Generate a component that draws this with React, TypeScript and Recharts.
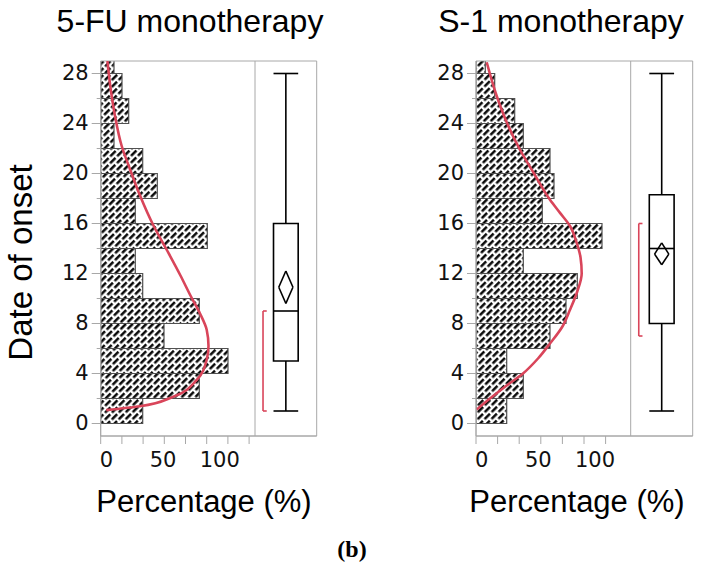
import React from 'react';
import { ComposedChart, XAxis, YAxis, Line, ReferenceArea, ReferenceLine } from 'recharts';

// ---- data ----
const binLows = [0, 2, 4, 6, 8, 10, 12, 14, 16, 18, 20, 22, 24, 26, 28];
const binWidth = 2;
const fuPercent = [42, 98.6, 127.3, 63.3, 98.6, 42, 34.6, 106.6, 34.6, 56.6, 42, 13.3, 28, 21.3, 13.3];
const s1Percent = [30.7, 47.3, 30.7, 74, 90, 101.3, 47.3, 126, 66.3, 78, 74, 47.3, 38.7, 18.7, 9.3];

const fuCurveX = [5.5, 39.3, 72.6, 96, 106, 107.8, 106, 99.3, 90, 80, 66, 53, 39.5, 29.5, 21, 14.3, 10, 6.7];
const fuCurveY = [1.07, 1.38, 2.14, 3.48, 5.1, 6.2, 7.5, 8.8, 10.2, 11.8, 13.9, 15.8, 18.2, 20.3, 22.2, 24.6, 26.75, 29];
const s1CurveX = [0.7, 14, 30, 47, 62, 74, 86, 94, 101, 105.7, 104.5, 100.7, 94, 84, 74, 57.3, 44, 30.7, 20.7, 10.7];
const s1CurveY = [1.12, 2.0, 3.0, 4.0, 5.2, 6.4, 7.7, 9.1, 10.5, 12, 13.3, 14.45, 15.8, 16.85, 17.9, 20.1, 21.9, 24.1, 26.2, 28.9];

// min, q1, median, q3, max
const fuBoxStats = [1, 5, 9, 16, 28];
const s1BoxStats = [1, 8, 14, 18.3, 28];
// lower CI, mean, upper CI
const fuMeanDiamond = [9.6, 10.9, 12.2];
const s1MeanDiamond = [12.7, 13.55, 14.45];
// shortest half
const fuShortestHalf = [1, 9];
const s1ShortestHalf = [7, 16];

const yTicks = [0, 2, 4, 6, 8, 10, 12, 14, 16, 18, 20, 22, 24, 26, 28];
const yLabelTicks = [0, 4, 8, 12, 16, 20, 24, 28];
const xLabelTicks = [0, 50, 100];
const fuXTickMarks = [0, 21.2, 42.4, 63.6, 84.8, 106, 127.2, 148.4];
const s1XTickMarks = [0, 21.6, 43.2, 64.8, 86.4, 108, 129.6];

const titles = ['5-FU monotherapy', 'S-1 monotherapy'];

const GRAY = '#a8a8a8';
const RED = '#d9455a';
const TICK_FONT = '"DejaVu Sans", Verdana, sans-serif';

const makeXTick = (marks: number[]) => (props: any) => {
  const { x, y, payload } = props;
  const v = payload.value;
  const isMark = marks.some((m) => Math.abs(m - v) < 1e-6);
  const isLabel = xLabelTicks.some((m) => Math.abs(m - v) < 1e-6);
  return (
    <g>
      {isMark && <line x1={x} x2={x} y1={y} y2={y + 8} stroke={GRAY} strokeWidth={1} />}
      {isLabel && (
        <text x={x - 1} y={y + 31} textAnchor="start" fontFamily={TICK_FONT} fontSize={21} fill="#111">
          {v}
        </text>
      )}
    </g>
  );
};

const YTick = (props: any) => {
  const { x, y, payload } = props;
  const v = payload.value;
  const major = yLabelTicks.includes(v);
  return (
    <g>
      <line x1={x - (major ? 9 : 4)} x2={x} y1={y} y2={y} stroke={GRAY} strokeWidth={1} />
      {major && (
        <text x={x - 12} y={y + 6} textAnchor="end" fontFamily={TICK_FONT} fontSize={21} fill="#111">
          {v}
        </text>
      )}
    </g>
  );
};

type PanelProps = {
  id: string;
  values: number[];
  curveX: number[];
  curveY: number[];
  box: number[];
  diamond: number[];
  half: number[];
  marks: number[];
  left: number;
  width: number;
  marginLeft: number;
  marginRight: number;
  histMax: number;
  divider: number;
};

function Panel(p: PanelProps) {
  const curve = p.curveX.map((x, i) => ({ x, y: p.curveY[i] }));
  const ticks = Array.from(new Set([...p.marks, ...xLabelTicks])).sort((a, b) => a - b);
  const [mn, q1, med, q3, mx] = p.box;
  const [lo, mean, hi] = p.diamond;
  // box-plot strip placement (in the strip right of the divider)
  const u = p.histMax - p.divider;
  const at = (f: number) => p.divider + f * u;
  const cx = at(0.5);
  const hw = 0.115 * u;
  const bx1 = at(0.3);
  const bx2 = at(0.7);
  const bk1 = at(0.13);
  const bk2 = at(0.19);
  const boxLine = { stroke: '#000', strokeWidth: 1.6, ifOverflow: 'visible' as const, xAxisId: 'hist' };
  const redLine = { stroke: RED, strokeWidth: 1.6, ifOverflow: 'visible' as const, xAxisId: 'hist' };
  return (
    <div style={{ position: 'absolute', left: p.left, top: 0, width: p.width, height: 480 }}>
      <ComposedChart
        width={p.width}
        height={480}
        margin={{ top: 61, left: p.marginLeft, right: p.marginRight, bottom: 4 }}
      >
        <defs>
          <pattern
            id={`hatch-${p.id}`}
            patternUnits="userSpaceOnUse"
            width={9.6}
            height={10}
            patternTransform="rotate(45)"
          >
            <rect x={0} y={0} width={9.6} height={10} fill="#fff" />
            <line x1={1.3} y1={0} x2={1.3} y2={7.6} stroke="#000" strokeWidth={2.4} />
            <line x1={6.1} y1={5} x2={6.1} y2={10} stroke="#000" strokeWidth={2.4} />
            <line x1={6.1} y1={0} x2={6.1} y2={2.6} stroke="#000" strokeWidth={2.4} />
          </pattern>
        </defs>
        <XAxis
          xAxisId="hist"
          type="number"
          dataKey="x"
          domain={[0, p.histMax]}
          ticks={ticks}
          interval={0}
          tickSize={0}
          tickMargin={0}
          tickLine={false}
          axisLine={{ stroke: GRAY }}
          height={40}
          allowDataOverflow
          tick={makeXTick(p.marks)}
        />
        <YAxis
          type="number"
          domain={[-1, 29]}
          ticks={yTicks}
          interval={0}
          tickSize={0}
          tickMargin={0}
          tickLine={false}
          axisLine={{ stroke: GRAY }}
          width={60}
          allowDataOverflow
          tick={YTick}
        />
        {binLows.map((b, i) => (
          <ReferenceArea
            key={`bar-${i}`}
            xAxisId="hist"
            x1={0}
            x2={p.values[i]}
            y1={b}
            y2={b + binWidth}
            fill={`url(#hatch-${p.id})`}
            fillOpacity={1}
            stroke="#505050"
            strokeWidth={1.2}
            ifOverflow="hidden"
          />
        ))}
        <ReferenceArea
          xAxisId="hist"
          x1={0}
          x2={p.histMax}
          y1={-1}
          y2={29}
          fill="none"
          fillOpacity={0}
          stroke={GRAY}
          strokeWidth={1}
          ifOverflow="visible"
        />
        <ReferenceLine xAxisId="hist" x={p.divider} stroke={GRAY} strokeWidth={1} />
        {/* box plot */}
        <ReferenceLine segment={[{ x: cx, y: mn }, { x: cx, y: q1 }]} {...boxLine} />
        <ReferenceLine segment={[{ x: cx, y: q3 }, { x: cx, y: mx }]} {...boxLine} />
        <ReferenceLine segment={[{ x: bx1, y: mn }, { x: bx2, y: mn }]} {...boxLine} />
        <ReferenceLine segment={[{ x: bx1, y: mx }, { x: bx2, y: mx }]} {...boxLine} />
        <ReferenceArea
          xAxisId="hist"
          x1={bx1}
          x2={bx2}
          y1={q1}
          y2={q3}
          fill="#fff"
          fillOpacity={1}
          stroke="#000"
          strokeWidth={1.6}
          ifOverflow="visible"
        />
        <ReferenceLine segment={[{ x: bx1, y: med }, { x: bx2, y: med }]} {...boxLine} />
        {/* mean diamond */}
        <ReferenceLine segment={[{ x: cx, y: hi }, { x: cx + hw, y: mean }]} {...boxLine} />
        <ReferenceLine segment={[{ x: cx + hw, y: mean }, { x: cx, y: lo }]} {...boxLine} />
        <ReferenceLine segment={[{ x: cx, y: lo }, { x: cx - hw, y: mean }]} {...boxLine} />
        <ReferenceLine segment={[{ x: cx - hw, y: mean }, { x: cx, y: hi }]} {...boxLine} />
        {/* shortest half bracket */}
        <ReferenceLine segment={[{ x: bk1, y: p.half[0] }, { x: bk1, y: p.half[1] }]} {...redLine} />
        <ReferenceLine segment={[{ x: bk1, y: p.half[0] }, { x: bk2, y: p.half[0] }]} {...redLine} />
        <ReferenceLine segment={[{ x: bk1, y: p.half[1] }, { x: bk2, y: p.half[1] }]} {...redLine} />
        <Line
          xAxisId="hist"
          data={curve}
          dataKey="y"
          type="monotoneY"
          stroke={RED}
          strokeWidth={2.6}
          dot={false}
          activeDot={false}
          isAnimationActive={false}
        />
      </ComposedChart>
    </div>
  );
}

export default function App() {
  const sans = '"Liberation Sans", Arial, sans-serif';
  return (
    <div style={{ position: 'absolute', left: 0, top: 0, width: 704, height: 576, background: '#fff' }}>
      <Panel
        id="fu"
        values={fuPercent}
        curveX={fuCurveX}
        curveY={fuCurveY}
        box={fuBoxStats}
        diamond={fuMeanDiamond}
        half={fuShortestHalf}
        marks={fuXTickMarks}
        left={0}
        width={330}
        marginLeft={40.7}
        marginRight={13.3}
        histMax={216}
        divider={154.3}
      />
      <Panel
        id="s1"
        values={s1Percent}
        curveX={s1CurveX}
        curveY={s1CurveY}
        box={s1BoxStats}
        diamond={s1MeanDiamond}
        half={s1ShortestHalf}
        marks={s1XTickMarks}
        left={352}
        width={352}
        marginLeft={64}
        marginRight={11.3}
        histMax={216.7}
        divider={154.7}
      />
      <svg
        width={704}
        height={576}
        style={{ position: 'absolute', left: 0, top: 0, pointerEvents: 'none' }}
      >
        <text x={190} y={32} textAnchor="middle" fontFamily={sans} fontSize={32} fill="#000">
          {titles[0]}
        </text>
        <text x={561} y={32} textAnchor="middle" fontFamily={sans} fontSize={32} fill="#000">
          {titles[1]}
        </text>
        <text
          x={32}
          y={262.5}
          transform="rotate(-90 32 262.5)"
          textAnchor="middle"
          fontFamily={sans}
          fontSize={33}
          fill="#000"
        >
          Date of onset
        </text>
        <text x={204} y={512} textAnchor="middle" fontFamily={sans} fontSize={31} fill="#000">
          Percentage (%)
        </text>
        <text x={577} y={512} textAnchor="middle" fontFamily={sans} fontSize={31} fill="#000">
          Percentage (%)
        </text>
        <text
          x={352}
          y={557}
          textAnchor="middle"
          fontFamily='"Liberation Serif", "Times New Roman", serif'
          fontWeight="bold"
          fontSize={24}
          fill="#000"
        >
          (b)
        </text>
      </svg>
    </div>
  );
}
